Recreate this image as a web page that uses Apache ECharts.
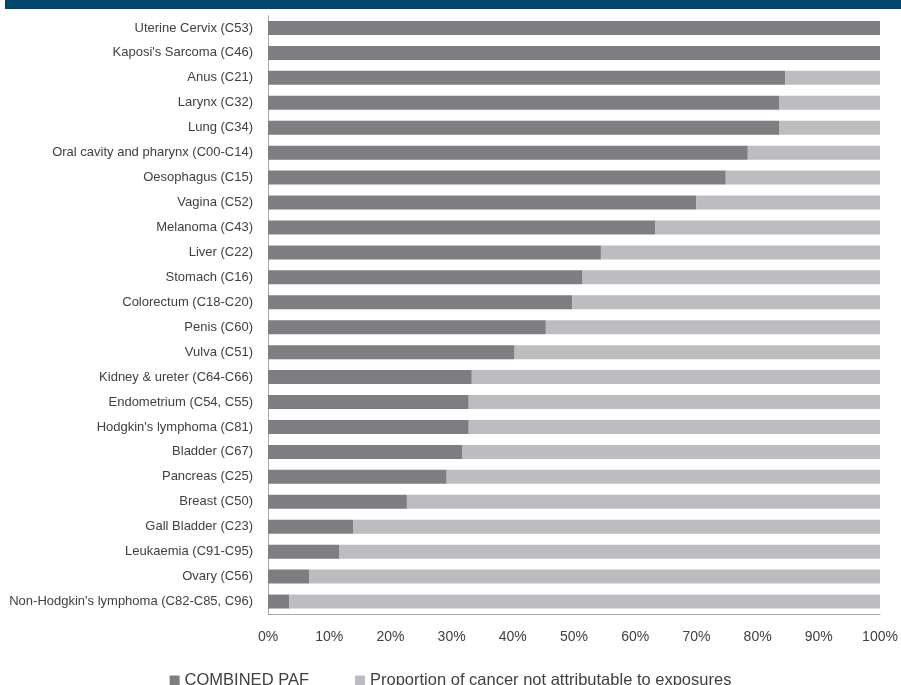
<!DOCTYPE html>
<html>
<head>
<meta charset="utf-8">
<script src="https://cdn.jsdelivr.net/npm/echarts@6/dist/echarts.min.js"></script>
<style>
  html, body { margin: 0; padding: 0; background: #fff; }
  #chart { width: 901px; height: 685px; }
</style>
</head>
<body>
<div id="chart"></div>
<script>
const cancers = [
  'Uterine Cervix (C53)', "Kaposi's Sarcoma (C46)", 'Anus (C21)', 'Larynx (C32)', 'Lung (C34)',
  'Oral cavity and pharynx (C00-C14)', 'Oesophagus (C15)', 'Vagina (C52)', 'Melanoma (C43)',
  'Liver (C22)', 'Stomach (C16)', 'Colorectum (C18-C20)', 'Penis (C60)', 'Vulva (C51)',
  'Kidney & ureter (C64-C66)', 'Endometrium (C54, C55)', "Hodgkin's lymphoma (C81)",
  'Bladder (C67)', 'Pancreas (C25)', 'Breast (C50)', 'Gall Bladder (C23)',
  'Leukaemia (C91-C95)', 'Ovary (C56)', "Non-Hodgkin's lymphoma (C82-C85, C96)"
];
// combined PAF, in %
const combinedPaf = [
  100, 100, 84.5, 83.5, 83.5, 78.4, 74.8, 70.0, 63.3, 54.4, 51.4, 49.7,
  45.4, 40.3, 33.3, 32.8, 32.8, 31.7, 29.2, 22.7, 13.9, 11.6, 6.7, 3.5
];
const notAttributable = combinedPaf.map(v => +(100 - v).toFixed(1));
const seriesNames = ['COMBINED PAF', 'Proportion of cancer not attributable to exposures'];

const chart = echarts.init(document.getElementById('chart'), null, { renderer: 'canvas' });
const font = '"Liberation Sans", Arial, sans-serif';

chart.setOption({
  animation: false,
  textStyle: { fontFamily: font },
  graphic: [
    {
      type: 'rect',
      shape: { x: 5, y: 0, width: 896, height: 9 },
      style: { fill: '#00476b' }
    }
  ],
  legend: {
    data: seriesNames,
    left: 'center',
    top: 667,
    itemWidth: 10,
    itemHeight: 10,
    itemGap: 46,
    icon: 'rect',
    textStyle: { color: '#404040', fontSize: 16.5, fontFamily: font }
  },
  grid: {
    left: 268,
    right: 21,
    top: 15.5,
    bottom: 71,
    containLabel: false
  },
  xAxis: {
    type: 'value',
    min: 0,
    max: 100,
    interval: 10,
    axisLine: { show: true, lineStyle: { color: '#a6a6a6' } },
    axisTick: { show: false },
    splitLine: { show: false },
    axisLabel: {
      formatter: '{value}%',
      color: '#404040',
      fontSize: 14,
      margin: 16
    }
  },
  yAxis: {
    type: 'category',
    inverse: true,
    data: cancers,
    axisLine: { show: true, lineStyle: { color: '#a6a6a6' } },
    axisTick: { show: false },
    axisLabel: { color: '#404040', fontSize: 13, margin: 15 }
  },
  series: [
    {
      name: seriesNames[0],
      type: 'bar',
      stack: 'total',
      barCategoryGap: '44%',
      itemStyle: { color: '#7d7e82' },
      data: combinedPaf
    },
    {
      name: seriesNames[1],
      type: 'bar',
      stack: 'total',
      itemStyle: { color: '#bcbdc0' },
      data: notAttributable
    }
  ]
});
</script>
</body>
</html>
